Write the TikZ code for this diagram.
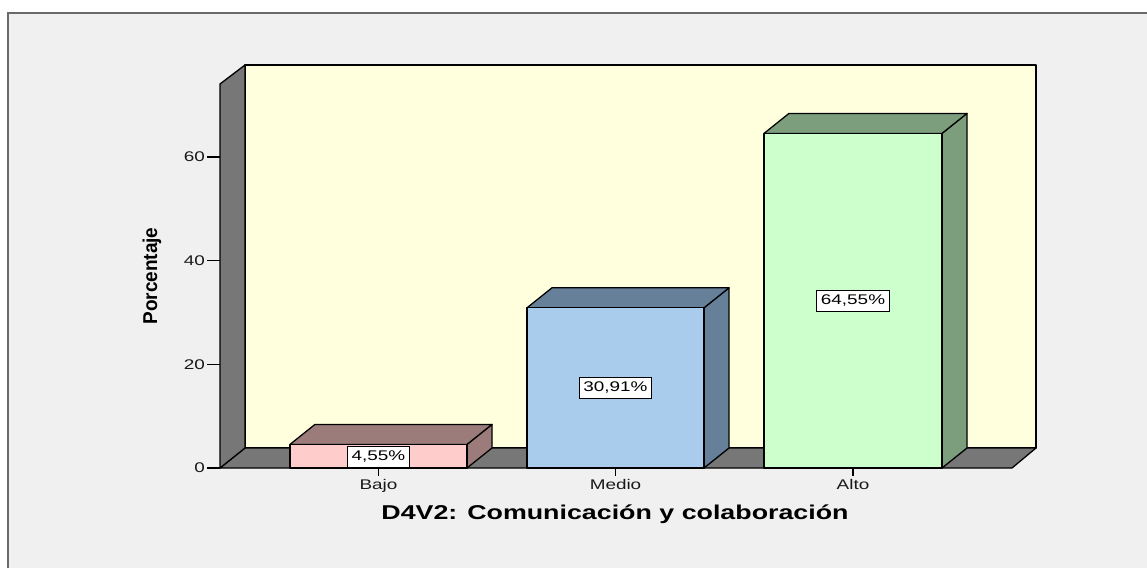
\documentclass[tikz,border=0pt]{standalone}
\usepackage{fontspec}
\setmainfont{Liberation Sans}
\usepackage{graphicx}
\definecolor{bgc}{HTML}{F0F0F0}
\definecolor{framec}{HTML}{6A6A6A}
\definecolor{wallc}{HTML}{FFFFDD}
\definecolor{floorc}{HTML}{777777}
\definecolor{bajof}{HTML}{FFCCCC}
\definecolor{bajos}{HTML}{9C7B7B}
\definecolor{mediof}{HTML}{AACCEC}
\definecolor{medios}{HTML}{66809A}
\definecolor{altof}{HTML}{CCFFCC}
\definecolor{altos}{HTML}{7C9E7C}
\newcommand{\sx}[1]{\scalebox{1.35}[1]{#1}}
\newcommand{\barthreed}[5]{%
  \draw[face, fill=#5] (#2,468) -- (#2,#3) -- ++(25,-20) -- ++(0,{468-#3}) -- cycle;
  \draw[face, fill=#5] (#1,#3) -- ++(25,-20) -- ++({#2-#1},0) -- (#2,#3) -- cycle;
  \draw[face, fill=#4] (#1,468) rectangle (#2,#3);
}
\tikzset{
  face/.style={draw=black, line width=1.3pt, line join=round},
  valbox/.style={draw=black, fill=white, line width=1pt, font=\fontsize{14}{14}\selectfont,
    inner xsep=4pt, inner ysep=0pt, minimum height=21pt},
  ticklab/.style={font=\fontsize{14}{14}\selectfont, text=black!90, inner sep=0pt},
  tickline/.style={draw=black, line width=1.2pt},
}
\begin{document}
\begin{tikzpicture}[x=1pt,y=-1pt]
\useasboundingbox (0,0) rectangle (1147,568);
\fill[white] (0,0) rectangle (1147,568);
\fill[bgc] (8,13) rectangle (1147,568);
\draw[framec, line width=2.2pt] (8,568) -- (8,13) -- (1147,13);
% back wall
\draw[face, fill=wallc] (245,65) rectangle (1036,448);
% floor
\draw[face, fill=floorc] (220,468) -- (1012,468) -- (1036,448) -- (245,448) -- cycle;
% left wall
\draw[face, fill=floorc] (220,468) -- (220,84) -- (245,65) -- (245,448) -- cycle;
% y ticks
\foreach \v/\yy in {0/468, 20/364.3, 40/260.7, 60/157}{
  \draw[tickline] (207,\yy) -- (220,\yy);
  \node[ticklab, anchor=east] (yt\v) at (205,\yy) {\sx{\v}};
}
% bars
\barthreed{290}{467}{444.4}{bajof}{bajos}
\barthreed{527}{704}{307.8}{mediof}{medios}
\barthreed{764}{942}{133.4}{altof}{altos}
% category ticks and labels
\foreach \n/\cx in {Bajo/378.5, Medio/615.5, Alto/853}{
  \draw[tickline] (\cx,468) -- (\cx,476);
  \node[ticklab, anchor=base] (c\n) at (\cx,489) {\sx{\n}};
}
% value labels
\node[valbox] (vbajo) at (378.5,456.5) {\sx{4,55\%}};
\node[valbox] (vmedio) at (615.5,387.5) {\sx{30,91\%}};
\node[valbox] (valto) at (853,301) {\sx{64,55\%}};
% axis titles
\node[inner sep=0pt, font=\fontsize{20}{20}\selectfont\bfseries] (xtitle) at (615,514) {\scalebox{1.34}[1]{D4V2: Comunicación y colaboración}};
\node[inner sep=0pt, rotate=90, font=\fontsize{20}{20}\selectfont\bfseries] (ytitle) at (152,276) {\scalebox{0.95}[1]{Porcentaje}};
\end{tikzpicture}
\end{document}
